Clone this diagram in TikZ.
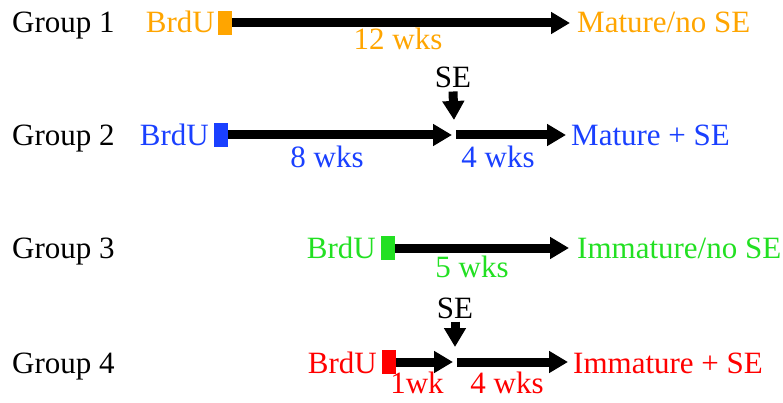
\documentclass[tikz,border=0pt]{standalone}
\usepackage{fontspec}
\setmainfont{Liberation Serif}
\usetikzlibrary{arrows.meta}
\definecolor{gorange}{RGB}{255,165,0}
\definecolor{gblue}{RGB}{26,64,255}
\definecolor{ggreen}{RGB}{34,224,34}
\definecolor{gred}{RGB}{255,0,0}
\tikzset{
  txt/.style={inner sep=0pt, font=\fontsize{31}{36}\selectfont},
  marker/.style={draw=none, inner sep=0pt, minimum width=14pt, minimum height=24pt},
  shaft/.style={line width=9pt, -{Triangle[length=19pt,width=21pt]}},
}
\begin{document}
\begin{tikzpicture}[x=1pt,y=-1pt]
\useasboundingbox (0,0) rectangle (783,403);

% Group 1
\node[txt, anchor=base west] (g1) at (12,33) {Group 1};
\node[marker, fill=gorange, anchor=west] (m1) at (218,23) {};
\node[txt, anchor=base east, text=gorange] (b1) at (215,33) {BrdU};
\node[txt, anchor=base west, text=gorange] (r1) at (577,33) {Mature/no SE};
\draw[shaft] (m1.east) -- ([xshift=-7pt]r1.west |- m1.east);
\node[txt, anchor=base, text=gorange] (l1) at (398,50) {12 wks};

% Group 2
\node[txt, anchor=base west] (g2) at (12,146) {Group 2};
\node[marker, fill=gblue, anchor=west] (m2) at (214,135) {};
\node[txt, anchor=base east, text=gblue] (b2) at (209,146) {BrdU};
\node[txt, anchor=base west, text=gblue] (r2) at (571,146) {Mature + SE};
\coordinate (s2) at (454,135);
\draw[shaft] (m2.east) -- ([xshift=-2pt]s2);
\draw[shaft] ([xshift=2pt]s2) -- ([xshift=-5pt]r2.west |- s2);
\node[txt, anchor=base] (se2) at (453,88) {SE};
\draw[shaft] ([yshift=-3pt]se2.south) -- ([yshift=15pt]s2);
\node[txt, anchor=base, text=gblue] (l2a) at (327,168) {8 wks};
\node[txt, anchor=base, text=gblue] (l2b) at (498,168) {4 wks};

% Group 3
\node[txt, anchor=base west] (g3) at (12,258) {Group 3};
\node[marker, fill=ggreen, anchor=west] (m3) at (381,248) {};
\node[txt, anchor=base east, text=ggreen] (b3) at (376,258) {BrdU};
\node[txt, anchor=base west, text=ggreen] (r3) at (577,258) {Immature/no SE};
\draw[shaft] (m3.east) -- ([xshift=-8pt]r3.west |- m3.east);
\node[txt, anchor=base, text=ggreen] (l3) at (472,277) {5 wks};

% Group 4
\node[txt, anchor=base west] (g4) at (12,373) {Group 4};
\node[marker, fill=gred, anchor=west] (m4) at (382,362) {};
\node[txt, anchor=base east, text=gred] (b4) at (377,373) {BrdU};
\node[txt, anchor=base west, text=gred] (r4) at (573,373) {Immature + SE};
\coordinate (s4) at (455,362);
\draw[shaft] (m4.east) -- ([xshift=-2pt]s4);
\draw[shaft] ([xshift=2pt]s4) -- ([xshift=-5pt]r4.west |- s4);
\node[txt, anchor=base] (se4) at (455,318) {SE};
\draw[shaft] ([yshift=-3pt]se4.south) -- ([yshift=15pt]s4);
\node[txt, anchor=base, text=gred] (l4a) at (417,393) {1wk};
\node[txt, anchor=base, text=gred] (l4b) at (507,393) {4 wks};
\end{tikzpicture}
\end{document}
